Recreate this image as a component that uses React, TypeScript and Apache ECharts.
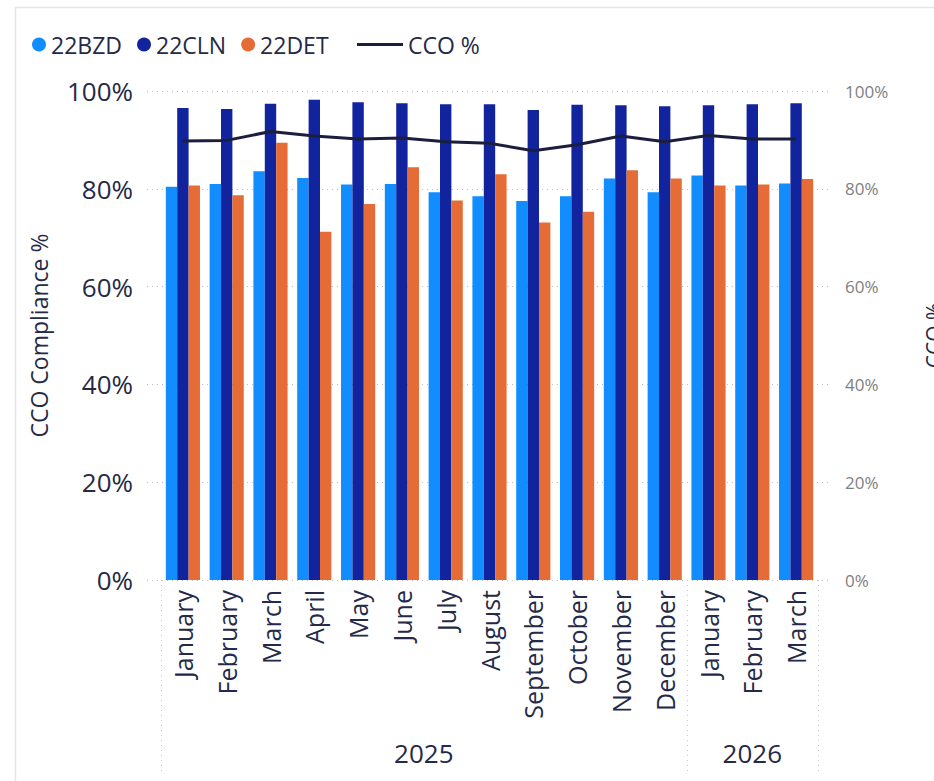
import React, { useEffect, useRef } from "react";
import * as echarts from "echarts";

const months = [
  "January", "February", "March", "April", "May", "June", "July", "August",
  "September", "October", "November", "December", "January", "February", "March",
];
const yearLabels = ["2025", "2026"];
const yearSpans = [12, 3];
const bzd = [80.4, 81.0, 83.6, 82.2, 80.9, 81.0, 79.3, 78.5, 77.5, 78.5, 82.1, 79.3, 82.7, 80.7, 81.1];
const cln = [96.5, 96.3, 97.4, 98.2, 97.7, 97.5, 97.3, 97.3, 96.1, 97.2, 97.1, 96.9, 97.1, 97.3, 97.5];
const det = [80.7, 78.7, 89.4, 71.2, 76.9, 84.4, 77.6, 83.0, 73.1, 75.3, 83.8, 82.1, 80.7, 80.9, 82.0];
const cco = [89.8, 89.9, 91.7, 90.8, 90.2, 90.4, 89.6, 89.3, 87.8, 89.0, 90.8, 89.6, 90.9, 90.2, 90.2];
const yTicks = [0, 20, 40, 60, 80, 100];

const FONT = "'Segoe UI', 'Open Sans', sans-serif";
const TEXT = "#252A48";
const C_BZD = "#118DFF";
const C_CLN = "#12239E";
const C_DET = "#E66C37";
const C_LINE = "#1B1F3D";

export default function App() {
  const ref = useRef<HTMLDivElement>(null);
  useEffect(() => {
    if (!ref.current) return;
    const chart = echarts.init(ref.current, null, { renderer: "svg" });
    const yMin = yTicks[0];
    const yMax = yTicks[yTicks.length - 1];
    const step = yTicks[1] - yTicks[0];
    chart.setOption({
      animation: false,
      textStyle: { fontFamily: FONT },
      legend: [
        {
          data: ["22BZD", "22CLN", "22DET"],
          icon: "circle",
          itemWidth: 14,
          itemHeight: 14,
          itemGap: 15,
          left: 27,
          top: 28,
          textStyle: { fontSize: 23, color: TEXT, fontFamily: FONT },
        },
        {
          data: [{ name: "CCO %", icon: "rect" }],
          itemWidth: 46,
          itemHeight: 3,
          left: 352,
          top: 28,
          textStyle: { fontSize: 23, color: TEXT, fontFamily: FONT },
        },
      ],
      grid: [
        { left: 161, right: 116, top: 91, bottom: 201, containLabel: false, outerBoundsMode: "none" },
        { left: 147, right: 102, top: 91, bottom: 201, containLabel: false, outerBoundsMode: "none" },
      ],
      xAxis: [
        {
          gridIndex: 0,
          type: "category",
          data: months,
          axisLine: { show: false },
          axisTick: { show: false },
          axisLabel: {
            rotate: 90,
            fontSize: 25,
            color: TEXT,
            margin: 10,
            interval: 0,
            fontFamily: FONT,
          },
        },
        { gridIndex: 1, type: "category", data: months, show: false },
      ],
      yAxis: [
        { gridIndex: 0, type: "value", min: yMin, max: yMax, interval: step, show: false },
        {
          gridIndex: 1,
          type: "value",
          position: "left",
          min: yMin,
          max: yMax,
          interval: step,
          axisLine: { show: false },
          axisTick: { show: false },
          axisLabel: { formatter: "{value}%", fontSize: 26, color: TEXT, margin: 14, fontFamily: FONT },
          splitLine: { lineStyle: { type: [1, 4], color: "#BDBDBD", width: 1 } },
          name: "CCO Compliance %",
          nameLocation: "middle",
          nameRotate: 90,
          nameGap: 97,
          nameTextStyle: { fontSize: 23, color: TEXT, fontFamily: FONT },
        },
        {
          gridIndex: 1,
          type: "value",
          position: "right",
          min: yMin,
          max: yMax,
          interval: step,
          axisLine: { show: false },
          axisTick: { show: false },
          splitLine: { show: false },
          axisLabel: { formatter: "{value}%", fontSize: 17, color: "#808080", margin: 13, fontFamily: FONT },
          name: "CCO %",
          nameLocation: "middle",
          nameRotate: 90,
          nameGap: 91,
          nameTextStyle: { fontSize: 21, color: TEXT, fontFamily: FONT },
        },
      ],
      series: [
        {
          name: "22BZD", type: "bar", xAxisIndex: 0, yAxisIndex: 0, data: bzd,
          itemStyle: { color: C_BZD }, barGap: "0%", barCategoryGap: "22%",
        },
        {
          name: "22CLN", type: "bar", xAxisIndex: 0, yAxisIndex: 0, data: cln,
          itemStyle: { color: C_CLN }, barGap: "0%", barCategoryGap: "22%",
        },
        {
          name: "22DET", type: "bar", xAxisIndex: 0, yAxisIndex: 0, data: det,
          itemStyle: { color: C_DET }, barGap: "0%", barCategoryGap: "22%",
        },
        {
          name: "CCO %", type: "line", xAxisIndex: 0, yAxisIndex: 0, data: cco,
          showSymbol: false, symbol: "none", z: 5,
          lineStyle: { color: C_LINE, width: 3 }, itemStyle: { color: C_LINE },
        },
      ],
    });

    // hierarchy axis: separators and year labels placed through the category scale
    const px = (i: number) => chart.convertToPixel({ xAxisIndex: 0 }, i) as number;
    const band = px(1) - px(0);
    const y0 = chart.convertToPixel({ yAxisIndex: 0 }, 0) as number;
    const sepBottom = 773;
    const graphics: any[] = [
      {
        type: "rect",
        shape: { x: 15.5, y: 7.5, width: 2000, height: 2000 },
        style: { fill: "none", stroke: "#E1E5EC", lineWidth: 1.5 },
        silent: true,
      },
    ];
    let start = 0;
    const bounds: number[] = [px(0) - band / 2];
    yearLabels.forEach((label, k) => {
      const end = start + yearSpans[k] - 1;
      const cx = (px(start) + px(end)) / 2;
      graphics.push({
        type: "text",
        x: cx,
        y: 753,
        style: {
          text: label,
          fontSize: 26,
          fill: TEXT,
          fontFamily: FONT,
          align: "center",
          verticalAlign: "middle",
        },
      });
      bounds.push(px(end) + band / 2);
      start = end + 1;
    });
    bounds.forEach((bx) => {
      const x = Math.round(bx) + 0.5;
      graphics.push({
        type: "line",
        shape: { x1: x, y1: y0, x2: x, y2: sepBottom },
        style: { stroke: "#C8C8C8", lineWidth: 1, lineDash: [1, 4] },
        silent: true,
      });
    });
    chart.setOption({ graphic: graphics });

    return () => chart.dispose();
  }, []);
  return (
    <div
      ref={ref}
      style={{ position: "fixed", left: 0, top: 0, width: 934, height: 781, background: "#fff" }}
    />
  );
}
